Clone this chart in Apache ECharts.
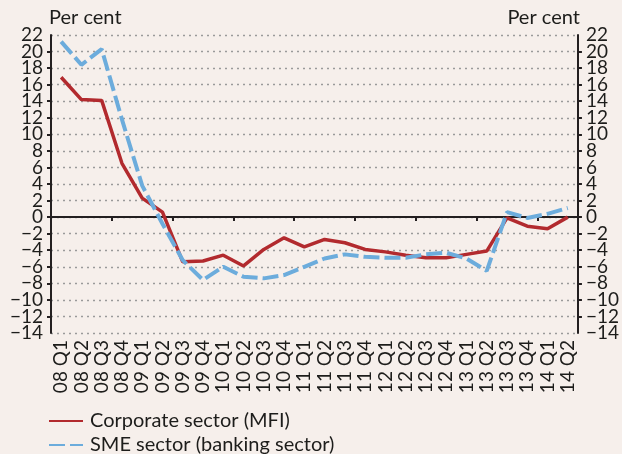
<!DOCTYPE html>
<html>
<head>
<meta charset="utf-8">
<script src="https://cdn.jsdelivr.net/npm/echarts@6/dist/echarts.min.js"></script>
<style>
  html, body { margin: 0; padding: 0; background: #f6efeb; }
  #main { width: 622px; height: 454px; }
</style>
</head>
<body>
<div id="main"></div>
<script>
// quarters 08 Q1 .. 14 Q2
var quarters = ['08 Q1','08 Q2','08 Q3','08 Q4','09 Q1','09 Q2','09 Q3','09 Q4',
    '10 Q1','10 Q2','10 Q3','10 Q4','11 Q1','11 Q2','11 Q3','11 Q4',
    '12 Q1','12 Q2','12 Q3','12 Q4','13 Q1','13 Q2','13 Q3','13 Q4','14 Q1','14 Q2'];
var corporate = [16.9, 14.2, 14.1, 6.5, 2.3, 0.6, -5.4, -5.3, -4.6, -5.9, -3.9, -2.5,
    -3.6, -2.7, -3.1, -3.9, -4.2, -4.6, -4.9, -4.9, -4.5, -4.1, -0.1, -1.1, -1.4, 0.0];
var sme = [21.2, 18.4, 20.3, 11.8, 3.8, -0.8, -5.2, -7.6, -6.0, -7.2, -7.4, -7.0,
    -6.0, -5.0, -4.5, -4.8, -4.9, -4.9, -4.5, -4.3, -5.0, -6.5, 0.6, -0.1, 0.4, 1.1];
var yMin = -14, yMax = 22;

var FONT = 'Lato';
var TXT = '#1d1d1b';

const Chart = echarts.init(document.getElementById('main'), null, { renderer: 'canvas' });

function fmt(v) { return String(v).replace('-', '\u2212'); }

// main value axis: all inner labels, ticks, grid
function yAxisCfg(pos) {
    return {
        type: 'value',
        position: pos,
        min: yMin,
        max: yMax,
        interval: 2,
        name: 'Per cent',
        nameLocation: 'end',
        nameGap: 7,
        nameTextStyle: {
            color: TXT, fontFamily: FONT, fontSize: 20,
            align: pos === 'left' ? 'left' : 'right',
            verticalAlign: 'bottom',
            padding: pos === 'left' ? [0, 0, 0, -2] : [0, -2, 0, 0]
        },
        axisLine: { show: true, lineStyle: { color: '#231f20', width: 2 } },
        axisTick: { show: true, length: 4, lineStyle: { color: '#231f20', width: 2 } },
        axisLabel: {
            color: TXT, fontFamily: FONT, fontSize: 19, margin: 8,
            showMinLabel: false, showMaxLabel: false,
            formatter: fmt
        },
        splitLine: {
            show: pos === 'left',
            lineStyle: { color: '#9a9a9a', type: [2, 4], width: 1.3 }
        }
    };
}
// extra axis only for the -14 / 22 end labels (otherwise echarts hides the neighbours)
function yEndCfg(pos) {
    return {
        type: 'value',
        position: pos,
        min: yMin,
        max: yMax,
        interval: yMax - yMin,
        axisLine: { show: false },
        axisTick: { show: false },
        splitLine: { show: false },
        axisLabel: {
            color: TXT, fontFamily: FONT, fontSize: 19, margin: 8,
            showMinLabel: true, showMaxLabel: true,
            formatter: fmt
        }
    };
}

var option = {
    backgroundColor: '#f6efeb',
    animation: false,
    grid: { left: 51, right: 39, top: 35, bottom: 121 },
    legend: {
        orient: 'vertical',
        left: 48,
        top: 411,
        height: 60,
        padding: 0,
        itemWidth: 34,
        itemHeight: 14,
        itemGap: 4,
        itemStyle: { color: 'rgba(0,0,0,0)', borderWidth: 0 },
        textStyle: { color: TXT, fontFamily: FONT, fontSize: 20, lineHeight: 18, padding: [0, 0, 0, 2] },
        data: ['Corporate sector (MFI)', 'SME sector (banking sector)']
    },
    xAxis: [{
        // labels at the bottom
        type: 'category',
        data: quarters,
        position: 'bottom',
        axisLine: { show: false, onZero: false },
        axisTick: { show: false },
        axisLabel: { rotate: 90, color: TXT, fontFamily: FONT, fontSize: 19, margin: 7, interval: 0 }
    }, {
        // zero line with ticks
        type: 'category',
        data: quarters,
        position: 'bottom',
        axisLine: { show: true, onZero: true, onZeroAxisIndex: 0, lineStyle: { color: '#231f20', width: 2 } },
        axisTick: { show: true, length: 4, lineStyle: { color: '#231f20', width: 2 } },
        axisLabel: { show: false }
    }],
    yAxis: [yAxisCfg('left'), yAxisCfg('right'), yEndCfg('left'), yEndCfg('right')],
    series: [{
        name: 'Corporate sector (MFI)',
        type: 'line',
        data: corporate,
        symbol: 'none',
        color: '#b22a2e',
        lineStyle: { color: '#b22a2e', width: 3.5 }
    }, {
        name: 'SME sector (banking sector)',
        type: 'line',
        data: sme,
        symbol: 'none',
        color: '#6cacdc',
        lineStyle: { color: '#6cacdc', width: 4, type: [16, 5] }
    }]
};
Chart.setOption(option);
</script>
</body>
</html>
